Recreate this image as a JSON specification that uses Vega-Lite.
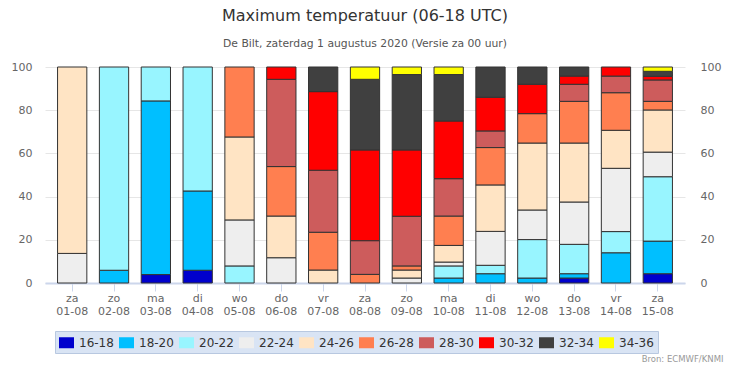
{
  "$schema": "https://vega.github.io/schema/vega-lite/v6.json",
  "width": 640,
  "height": 216,
  "autosize": {"type": "none"},
  "padding": {"left": 45, "top": 67, "right": 47, "bottom": 83},
  "background": "white",
  "title": {
    "text": "Maximum temperatuur (06-18 UTC)",
    "subtitle": "De Bilt, zaterdag 1 augustus 2020 (Versie za 00 uur)",
    "font": "DejaVu Sans",
    "fontSize": 16,
    "fontWeight": "normal",
    "color": "#333333",
    "subtitleFont": "DejaVu Sans",
    "subtitleFontSize": 10.8,
    "subtitleColor": "#555555",
    "anchor": "middle",
    "offset": 12,
    "subtitlePadding": 14
  },
  "config": {
    "view": {"stroke": null},
    "axis": {"labelFont": "DejaVu Sans", "titleFont": "DejaVu Sans"},
    "legend": {"labelFont": "DejaVu Sans"}
  },
  "data": {
    "values": [
      {"d": "za 01-08", "t": "22-24", "p": 13.7},
      {"d": "za 01-08", "t": "24-26", "p": 86.3},
      {"d": "zo 02-08", "t": "18-20", "p": 5.9},
      {"d": "zo 02-08", "t": "20-22", "p": 94.1},
      {"d": "ma 03-08", "t": "16-18", "p": 3.9},
      {"d": "ma 03-08", "t": "18-20", "p": 80.4},
      {"d": "ma 03-08", "t": "20-22", "p": 15.7},
      {"d": "di 04-08", "t": "16-18", "p": 5.9},
      {"d": "di 04-08", "t": "18-20", "p": 36.7},
      {"d": "di 04-08", "t": "20-22", "p": 57.4},
      {"d": "wo 05-08", "t": "20-22", "p": 7.9},
      {"d": "wo 05-08", "t": "22-24", "p": 21.3},
      {"d": "wo 05-08", "t": "24-26", "p": 38.4},
      {"d": "wo 05-08", "t": "26-28", "p": 32.4},
      {"d": "do 06-08", "t": "22-24", "p": 11.7},
      {"d": "do 06-08", "t": "24-26", "p": 19.3},
      {"d": "do 06-08", "t": "26-28", "p": 22.9},
      {"d": "do 06-08", "t": "28-30", "p": 40.4},
      {"d": "do 06-08", "t": "30-32", "p": 5.7},
      {"d": "vr 07-08", "t": "24-26", "p": 6.0},
      {"d": "vr 07-08", "t": "26-28", "p": 17.5},
      {"d": "vr 07-08", "t": "28-30", "p": 28.7},
      {"d": "vr 07-08", "t": "30-32", "p": 36.4},
      {"d": "vr 07-08", "t": "32-34", "p": 11.4},
      {"d": "za 08-08", "t": "26-28", "p": 4.0},
      {"d": "za 08-08", "t": "28-30", "p": 15.6},
      {"d": "za 08-08", "t": "30-32", "p": 42.0},
      {"d": "za 08-08", "t": "32-34", "p": 32.7},
      {"d": "za 08-08", "t": "34-36", "p": 5.7},
      {"d": "zo 09-08", "t": "22-24", "p": 2.3},
      {"d": "zo 09-08", "t": "24-26", "p": 3.7},
      {"d": "zo 09-08", "t": "26-28", "p": 1.9},
      {"d": "zo 09-08", "t": "28-30", "p": 23.0},
      {"d": "zo 09-08", "t": "30-32", "p": 30.7},
      {"d": "zo 09-08", "t": "32-34", "p": 34.9},
      {"d": "zo 09-08", "t": "34-36", "p": 3.5},
      {"d": "ma 10-08", "t": "18-20", "p": 2.3},
      {"d": "ma 10-08", "t": "20-22", "p": 5.6},
      {"d": "ma 10-08", "t": "22-24", "p": 1.8},
      {"d": "ma 10-08", "t": "24-26", "p": 7.7},
      {"d": "ma 10-08", "t": "26-28", "p": 13.6},
      {"d": "ma 10-08", "t": "28-30", "p": 17.3},
      {"d": "ma 10-08", "t": "30-32", "p": 26.7},
      {"d": "ma 10-08", "t": "32-34", "p": 21.5},
      {"d": "ma 10-08", "t": "34-36", "p": 3.5},
      {"d": "di 11-08", "t": "18-20", "p": 4.3},
      {"d": "di 11-08", "t": "20-22", "p": 3.9},
      {"d": "di 11-08", "t": "22-24", "p": 15.7},
      {"d": "di 11-08", "t": "24-26", "p": 21.5},
      {"d": "di 11-08", "t": "26-28", "p": 17.3},
      {"d": "di 11-08", "t": "28-30", "p": 7.7},
      {"d": "di 11-08", "t": "30-32", "p": 15.6},
      {"d": "di 11-08", "t": "32-34", "p": 14.0},
      {"d": "wo 12-08", "t": "18-20", "p": 2.3},
      {"d": "wo 12-08", "t": "20-22", "p": 17.8},
      {"d": "wo 12-08", "t": "22-24", "p": 13.7},
      {"d": "wo 12-08", "t": "24-26", "p": 31.0},
      {"d": "wo 12-08", "t": "26-28", "p": 13.6},
      {"d": "wo 12-08", "t": "30-32", "p": 13.6},
      {"d": "wo 12-08", "t": "32-34", "p": 8.0},
      {"d": "do 13-08", "t": "16-18", "p": 2.3},
      {"d": "do 13-08", "t": "18-20", "p": 2.0},
      {"d": "do 13-08", "t": "20-22", "p": 13.6},
      {"d": "do 13-08", "t": "22-24", "p": 19.6},
      {"d": "do 13-08", "t": "24-26", "p": 27.3},
      {"d": "do 13-08", "t": "26-28", "p": 19.3},
      {"d": "do 13-08", "t": "28-30", "p": 7.9},
      {"d": "do 13-08", "t": "30-32", "p": 3.8},
      {"d": "do 13-08", "t": "32-34", "p": 4.2},
      {"d": "vr 14-08", "t": "18-20", "p": 14.0},
      {"d": "vr 14-08", "t": "20-22", "p": 9.8},
      {"d": "vr 14-08", "t": "22-24", "p": 29.3},
      {"d": "vr 14-08", "t": "24-26", "p": 17.6},
      {"d": "vr 14-08", "t": "26-28", "p": 17.4},
      {"d": "vr 14-08", "t": "28-30", "p": 7.7},
      {"d": "vr 14-08", "t": "30-32", "p": 4.2},
      {"d": "za 15-08", "t": "16-18", "p": 4.3},
      {"d": "za 15-08", "t": "18-20", "p": 15.1},
      {"d": "za 15-08", "t": "20-22", "p": 29.8},
      {"d": "za 15-08", "t": "22-24", "p": 11.4},
      {"d": "za 15-08", "t": "24-26", "p": 19.5},
      {"d": "za 15-08", "t": "26-28", "p": 4.0},
      {"d": "za 15-08", "t": "28-30", "p": 9.9},
      {"d": "za 15-08", "t": "30-32", "p": 1.7},
      {"d": "za 15-08", "t": "32-34", "p": 2.3},
      {"d": "za 15-08", "t": "34-36", "p": 2.0}
    ]
  },
  "layer": [
    {
      "mark": {"type": "bar", "stroke": "#333333", "strokeWidth": 1},
      "encoding": {
        "x": {
          "field": "d",
          "type": "nominal",
          "sort": null,
          "scale": {"paddingInner": 0.3, "paddingOuter": 0.3},
          "axis": {
            "labelAngle": 0,
            "labelExpr": "split(datum.value, ' ')",
            "labelColor": "#666666",
            "labelFontSize": 11,
            "labelLineHeight": 13,
            "labelBaseline": "top",
            "labelPadding": 1,
            "domainColor": "#ccd6eb",
            "domainWidth": 2,
            "tickColor": "#ccd6eb",
            "tickSize": 8,
            "grid": false,
            "title": "Bron: ECMWF/KNMI",
            "titleFontSize": 8.5,
            "titleFontWeight": "normal",
            "titleColor": "#999999",
            "titleAnchor": "end",
            "titleAlign": "right",
            "titleBaseline": "alphabetic",
            "titleX": 678,
            "titleY": 78
          }
        },
        "y": {
          "field": "p",
          "type": "quantitative",
          "stack": "zero",
          "scale": {"domain": [0, 100], "nice": false},
          "axis": {
            "orient": "left",
            "values": [0, 20, 40, 60, 80, 100],
            "title": null,
            "domain": false,
            "ticks": false,
            "tickSize": 0,
            "labelPadding": 13,
            "labelColor": "#666666",
            "labelFontSize": 11,
            "gridColor": "#e6e6e6",
            "gridWidth": 1
          }
        },
        "color": {
          "field": "t",
          "type": "nominal",
          "scale": {
            "domain": ["16-18", "18-20", "20-22", "22-24", "24-26", "26-28", "28-30", "30-32", "32-34", "34-36"],
            "range": ["#0000cd", "#00bfff", "#98f5ff", "#eeeeee", "#ffe4c4", "#ff7f50", "#cd5c5c", "#ff0000", "#404040", "#ffff00"]
          },
          "legend": {
            "orient": "none",
            "legendX": 10,
            "legendY": 264,
            "direction": "horizontal",
            "columns": 10,
            "title": null,
            "fillColor": "#d9e4f4",
            "strokeColor": "#b8c8e0",
            "padding": 4,
            "symbolType": "M-1,-0.733H1V0.733H-1Z",
            "symbolSize": 225,
            "symbolStrokeWidth": 0,
            "symbolOpacity": 1,
            "labelFontSize": 12,
            "labelColor": "#333333",
            "labelOffset": 5,
            "columnPadding": 5
          }
        },
        "order": {"field": "t", "sort": "ascending"}
      }
    },
    {
      "mark": {"type": "bar", "opacity": 0},
      "encoding": {
        "x": {"field": "d", "type": "nominal", "sort": null},
        "y": {
          "field": "p",
          "type": "quantitative",
          "scale": {"domain": [0, 100], "nice": false},
          "axis": {
            "orient": "right",
            "values": [0, 20, 40, 60, 80, 100],
            "title": null,
            "domain": false,
            "ticks": false,
            "tickSize": 0,
            "grid": false,
            "labelPadding": 15,
            "labelColor": "#666666",
            "labelFontSize": 11
          }
        }
      }
    }
  ],
  "resolve": {"axis": {"y": "independent"}}
}
